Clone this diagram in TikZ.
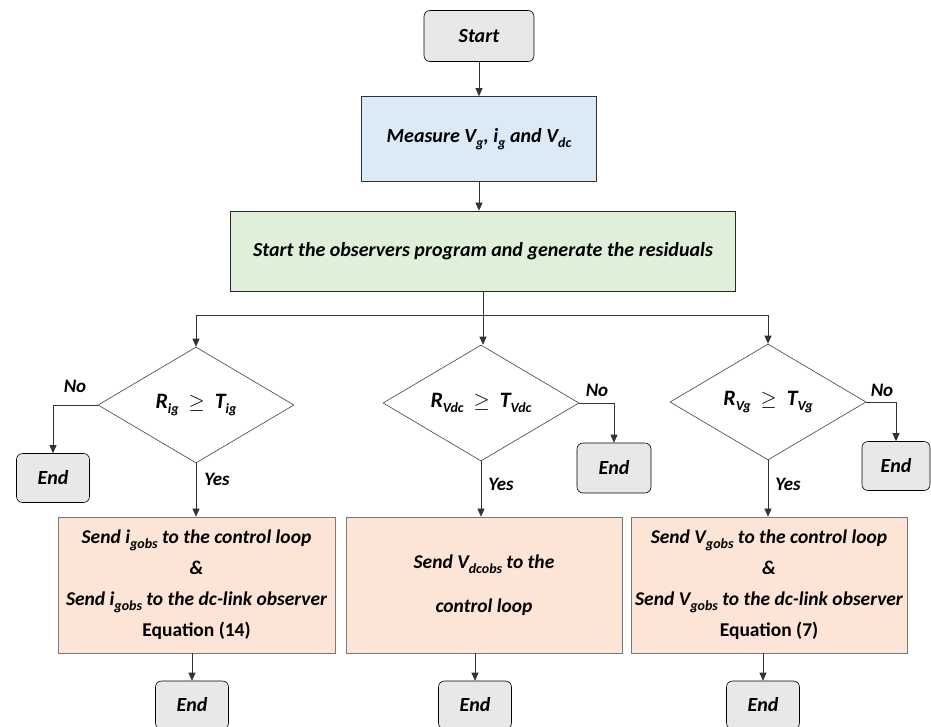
\documentclass[tikz,border=0pt]{standalone}
\usepackage{fontspec}
\setmainfont{Carlito}
\usetikzlibrary{shapes.geometric,arrows.meta}
\definecolor{startfill}{RGB}{232,232,232}
\definecolor{bluefill}{RGB}{219,234,247}
\definecolor{greenfill}{RGB}{224,239,218}
\definecolor{pinkfill}{RGB}{252,229,214}
\definecolor{pinkdraw}{RGB}{120,120,120}
\newcommand{\sbx}[1]{\raisebox{-0.25em}{\fontsize{14}{14}\selectfont #1}}
\begin{document}
\begin{tikzpicture}[x=1pt,y=-1pt,
  every node/.style={font=\bfseries\itshape\fontsize{20}{24}\selectfont, inner sep=0pt},
  term/.style={draw=black, line width=0.6pt, rounded corners=6pt, fill=startfill, minimum width=73pt, minimum height=49pt},
  procbox/.style={draw=black!80, line width=0.7pt, minimum height=136pt, minimum width=276pt, fill=pinkfill, draw=pinkdraw, align=center},
  decision/.style={diamond, draw=black!75, line width=0.6pt, aspect=1.68, minimum width=196pt, minimum height=116pt, inner sep=0pt, font=\bfseries\itshape\fontsize{22}{26}\selectfont},
  arr/.style={draw=black!80, line width=0.6pt, -{Triangle[length=8pt,width=7pt]}},
  lbl/.style={font=\bfseries\itshape\fontsize{19}{22}\selectfont}
]
\useasboundingbox (0,0) rectangle (931,726);
% top
\node[term, minimum width=110pt, minimum height=51pt] (start) at (479,36) {Start};
\node[draw=black!80, line width=0.7pt, fill=bluefill, minimum width=235pt, minimum height=85pt] (meas) at (479,139) {Measure V\sbx{g}, i\sbx{g} and V\sbx{dc}};
\node[draw=black!85, line width=0.7pt, fill=greenfill, minimum width=505pt, minimum height=80pt] (obs) at (483,251) {Start the observers program and generate the residuals};
\draw[arr] (start) -- (meas);
\draw[arr] (meas.south) -- (meas.south |- obs.north);
% diamonds
\node[decision] (dL) at (196,405) {R\sbx{ig} ~$\geq$~ T\sbx{ig}};
\node[decision] (dM) at (481,403) {R\sbx{Vdc} ~$\geq$~ T\sbx{Vdc}};
\node[decision] (dR) at (768,402) {R\sbx{Vg} ~$\geq$~ T\sbx{Vg}};
\coordinate (br) at (483,315);
\draw[line width=0.6pt, draw=black!80] (obs.south -| br) -- (br);
\draw[line width=0.6pt, draw=black!80] (dL.north |- br) -- (dR.north |- br);
\draw[arr] (dL.north |- br) -- (dL.north);
\draw[arr] (br) -- (br |- dM.north);
\draw[arr] (dR.north |- br) -- (dR.north);
% No ends
\node[term] (eL) at (53,478) {End};
\node[term, minimum width=74pt, minimum height=50pt] (eM) at (614,468) {End};
\node[term, minimum width=68pt] (eR) at (896,466) {End};
\draw[arr] (dL.west) -| (eL.north);
\draw[arr] (dM.east) -| (eM.north);
\draw[arr] (dR.east) -| (eR.north);
\node[lbl] (noL) at (75,386) {No};
\node[lbl] (noM) at (597,390) {No};
\node[lbl] (noR) at (882,390) {No};
% process boxes
\node[procbox, minimum width=277pt, font=\bfseries\itshape\fontsize{19.5}{31}\selectfont] (pL) at (196.5,585)
  {Send i\sbx{gobs} to the control loop\\ \&\\ Send i\sbx{gobs} to the dc-link observer\\ \upshape Equation (14)};
\node[procbox, font=\bfseries\itshape\fontsize{19.5}{44}\selectfont] (pM) at (484,585)
  {Send V\sbx{dcobs} to the\\ control loop};
\node[procbox, font=\bfseries\itshape\fontsize{19.5}{31}\selectfont] (pR) at (769,585)
  {Send V\sbx{gobs} to the control loop\\ \&\\ Send V\sbx{gobs} to the dc-link observer\\ \upshape Equation (7)};
\draw[arr] (dL.south) -- (dL.south |- pL.north);
\draw[arr] (dM.south) -- (dM.south |- pM.north);
\draw[arr] (dR.south) -- (dR.south |- pR.north);
\node[lbl] (yL) at (217,479) {Yes};
\node[lbl] (yM) at (501,484) {Yes};
\node[lbl] (yR) at (788,484) {Yes};
% bottom ends
\node[term, minimum height=48pt] (bL) at (192,705) {End};
\node[term, minimum height=48pt] (bM) at (475,705) {End};
\node[term, minimum height=48pt] (bR) at (763,705) {End};
\draw[arr] (bL.north |- pL.south) -- (bL.north);
\draw[arr] (bM.north |- pM.south) -- (bM.north);
\draw[arr] (bR.north |- pR.south) -- (bR.north);
\end{tikzpicture}
\end{document}
